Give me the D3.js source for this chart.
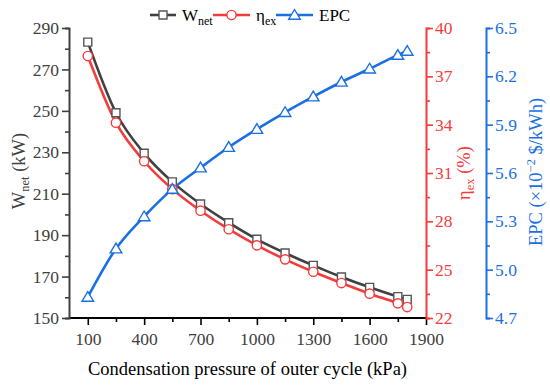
<!DOCTYPE html>
<html>
<head>
<meta charset="utf-8">
<script src="https://cdn.jsdelivr.net/npm/d3@7"></script>
<style>
  body { margin: 0; background: #fff; }
</style>
</head>
<body>
<svg id="chart" width="550" height="387" font-family="Liberation Serif, Times New Roman, serif"></svg>
<script>
// data
const pressure = [100, 250, 400, 550, 700, 850, 1000, 1150, 1300, 1450, 1600, 1750, 1800];
const wNet = [283.2, 249.1, 229.5, 215.7, 205.0, 196.0, 188.0, 181.4, 175.4, 169.8, 164.8, 160.3, 159.0];
const etaEx = [38.26, 34.12, 31.73, 30.0, 28.66, 27.51, 26.51, 25.64, 24.87, 24.17, 23.51, 22.91, 22.68];
const epc = [4.83, 5.13, 5.33, 5.50, 5.633, 5.76, 5.872, 5.977, 6.074, 6.165, 6.247, 6.332, 6.357];

const xTicks = [100, 400, 700, 1000, 1300, 1600, 1900];
const wTicks = [150, 170, 190, 210, 230, 250, 270, 290];
const etaTicks = [22, 25, 28, 31, 34, 37, 40];
const epcTicks = [4.7, 5.0, 5.3, 5.6, 5.9, 6.2, 6.5];

const gray = '#404040', red = '#f53b3b', blue = '#1b6fe4';
const serif = '"Liberation Serif", "Times New Roman", serif';

const svg = d3.select('#chart');
const plotLeft = 69, plotRight = 426, plotTop = 28, plotBottom = 318;

const x = d3.scaleLinear().domain([0, 1900]).range([plotLeft, plotRight]);
const yW = d3.scaleLinear().domain([150, 290]).range([plotBottom, plotTop]);
const yEta = d3.scaleLinear().domain([22, 40]).range([plotBottom, plotTop]);
const yEpc = d3.scaleLinear().domain([4.7, 6.5]).range([plotBottom, plotTop]);

// helper: major + minor ticks for an axis
function drawAxis(g, axisFn, scale, ticks, minor, fmt, color) {
  g.call(axisFn(scale).tickValues(minor).tickSize(4).tickFormat(''))
  const gm = g.append('g')
  gm.call(axisFn(scale).tickValues(ticks).tickSize(7).tickFormat(fmt).tickSizeOuter(0))
  g.attr('font-family', null)
  gm.attr('font-family', null)
  g.selectAll('path.domain').attr('stroke', color).attr('stroke-width', 2)
  g.selectAll('line').attr('stroke', color).attr('stroke-width', 1.6)
  g.selectAll('text').attr('fill', color).style('font-family', serif).style('font-size', '17.5px')
  gm.select('path.domain').remove()
}

function mids(t) {
  const m = [];
  for (let i = 0; i < t.length - 1; i++) m.push((t[i] + t[i + 1]) / 2);
  return m;
}

const gx = svg.append('g').attr('transform', `translate(0,${plotBottom})`);
drawAxis(gx, d3.axisBottom, x, xTicks, mids(xTicks), d3.format('d'), '#000');
gx.selectAll('text').attr('fill', gray).attr('dy', '0.95em');
gx.select('path.domain').attr('d', `M${plotLeft},0H${plotRight}`);

const gl = svg.append('g').attr('transform', `translate(${plotLeft},0)`);
drawAxis(gl, d3.axisLeft, yW, wTicks, mids(wTicks), d3.format('d'), gray);
gl.selectAll('text').attr('x', -10);

const gr = svg.append('g').attr('transform', `translate(${plotRight},0)`);
drawAxis(gr, d3.axisRight, yEta, etaTicks, mids(etaTicks), d3.format('d'), red);
gr.selectAll('text').attr('x', 9);

const gb = svg.append('g').attr('transform', 'translate(486,0)');
drawAxis(gb, d3.axisRight, yEpc, epcTicks, mids(epcTicks), d3.format('.1f'), blue);
gb.selectAll('text').attr('x', 9);

// series
const series = [
  { key: 'w', values: wNet, y: yW, color: gray, marker: 'square' },
  { key: 'eta', values: etaEx, y: yEta, color: red, marker: 'circle' },
  { key: 'epc', values: epc, y: yEpc, color: blue, marker: 'triangle' }
];

function markerPath(type) {
  if (type === 'square') return d3.symbol().type(d3.symbolSquare).size(64)();
  if (type === 'circle') return d3.symbol().type(d3.symbolCircle).size(68)();
  return 'M0,-5.5L5.8,4.2L-5.8,4.2Z';
}
function markerStroke(s) { return s.marker === 'square' ? '#555' : s.color; }

series.forEach(s => {
  const line = d3.line()
    .x((d, i) => x(pressure[i]))
    .y(d => s.y(d))
    .curve(d3.curveMonotoneX);
  svg.append('path')
    .datum(s.values)
    .attr('d', line)
    .attr('fill', 'none')
    .attr('stroke', s.color)
    .attr('stroke-width', 2.6);
});

series.forEach(s => {
  svg.append('g').selectAll('path')
    .data(s.values)
    .join('path')
    .attr('transform', (d, i) => `translate(${x(pressure[i])},${s.y(d)})`)
    .attr('d', markerPath(s.marker))
    .attr('fill', '#fff')
    .attr('stroke', markerStroke(s))
    .attr('stroke-width', 1.4);
});

// legend
const legend = [
  { x0: 150, label: 'W', sub: 'net', s: series[0] },
  { x0: 213, label: '\u03b7', sub: 'ex', s: series[1] },
  { x0: 276, label: 'EPC', sub: '', s: series[2] }
];
legend.forEach(l => {
  const g = svg.append('g').attr('transform', `translate(${l.x0},15)`);
  const w = l.s.key === 'w' ? 26 : 37;
  g.append('line').attr('x1', 0).attr('x2', w).attr('stroke', l.s.color).attr('stroke-width', 2.6);
  g.append('path').attr('transform', `translate(${w / 2},0)`).attr('d', markerPath(l.s.marker))
    .attr('fill', '#fff').attr('stroke', markerStroke(l.s)).attr('stroke-width', 1.4);
  const t = g.append('text').attr('x', w + 6).attr('y', 6).attr('fill', '#000').style('font-size', '17px');
  t.append('tspan').text(l.label);
  if (l.sub) t.append('tspan').attr('dy', 4).style('font-size', '12px').text(l.sub);
});

// axis titles
svg.append('text')
  .attr('x', 247.5).attr('y', 375)
  .attr('text-anchor', 'middle').attr('fill', '#000')
  .style('font-size', '18.5px')
  .text('Condensation pressure of outer cycle (kPa)');

function vTitle(cx, cy, color, parts) {
  const t = svg.append('text')
    .attr('transform', `translate(${cx},${cy}) rotate(-90)`)
    .attr('text-anchor', 'middle').attr('fill', color)
    .style('font-size', '18.5px');
  parts.forEach(p => {
    const sp = t.append('tspan').text(p.t);
    if (p.size) sp.style('font-size', p.size + 'px');
    if (p.dy) sp.attr('dy', p.dy);
  });
}
vTitle(25, 171, gray, [{ t: 'W' }, { t: 'net', size: 12.5, dy: 4 }, { t: ' (kW)', dy: -4 }]);
vTitle(470, 173, red, [{ t: '\u03b7' }, { t: 'ex', size: 12.5, dy: 4 }, { t: ' (%)', dy: -4 }]);
vTitle(542, 172, blue, [{ t: 'EPC (\u00d710' }, { t: '\u22122', size: 12.5, dy: -7 }, { t: ' $/kWh)', dy: 7 }]);
</script>
</body>
</html>
